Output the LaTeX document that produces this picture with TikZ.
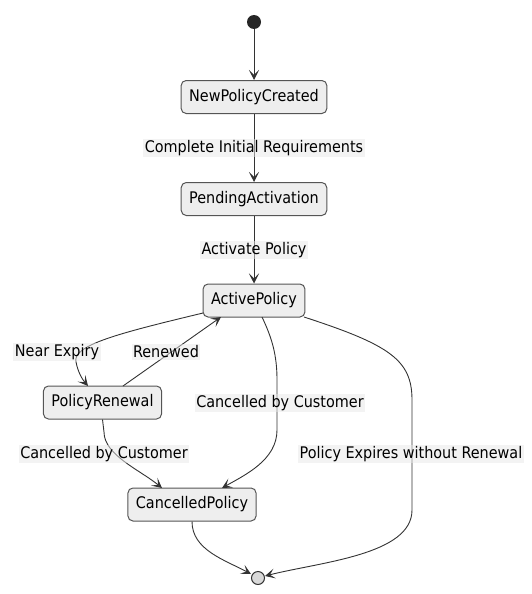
\documentclass[tikz,border=0pt]{standalone}
\usepackage{fontspec}
\setmainfont{DejaVu Sans Condensed}
\usetikzlibrary{arrows.meta}
\definecolor{boxfill}{HTML}{EEEEEE}
\definecolor{boxline}{HTML}{555555}
\definecolor{edgecol}{HTML}{333333}
\definecolor{lblfill}{HTML}{E8E8E8}
\begin{document}
\begin{tikzpicture}[x=1pt,y=-1pt,
  state/.style={draw=boxline,fill=boxfill,rounded corners=5pt,line width=1pt,
    minimum height=33pt,inner xsep=8pt,font=\fontsize{16}{19}\selectfont},
  lbl/.style={fill=lblfill,fill opacity=0.5,text opacity=1,inner sep=1.5pt,
    font=\fontsize{16}{19}\selectfont},
  edge/.style={draw=edgecol,line width=0.9pt,-{Stealth[length=10pt,width=10pt,inset=5pt]}}]
\useasboundingbox (0,0) rectangle (531,594);
\node[circle,fill=black!85,minimum size=14pt,inner sep=0pt] (start) at (254,22) {};
\node[state,minimum width=144pt] (new) at (254,97) {NewPolicyCreated};
\node[state,minimum width=144pt] (pend) at (254,199) {PendingActivation};
\node[state,minimum width=101pt] (active) at (254,300.5) {ActivePolicy};
\node[state,minimum width=115pt] (renew) at (102.5,402.5) {PolicyRenewal};
\node[state,minimum width=128pt] (canc) at (192,504.5) {CancelledPolicy};
\node[circle,draw=black!80,fill=black!15,line width=1pt,minimum size=13pt,inner sep=0pt] (end) at (258,578) {};
% coordinates
\coordinate (aNE) at (203,313);
\coordinate (rA) at (123,386);
\coordinate (aR) at (221,317);
\coordinate (aC) at (262,317);
\coordinate (aE) at (304,317);
\coordinate (rTop) at (88,386);
\coordinate (cL) at (162,488);
\coordinate (cR) at (222,488);
\coordinate (eL) at (251,574);
\coordinate (eR) at (265,576);
% edges
\draw[edge] (start) -- (new);
\draw[edge] (new) -- (pend);
\draw[edge] (pend) -- (active);
\draw[edge] (aNE) .. controls (120,333) and (72,345) .. (76,362) .. controls (78,372) and (82,379) .. (rTop);
\draw[edge] (rA) -- (aR);
\draw[edge] (aC) .. controls (272,338) and (277,355) .. (277,380) -- (277,430) .. controls (277,460) and (245,475) .. (cR);
\draw[edge] (renew.south) -- (104,432) .. controls (104,455) and (140,470) .. (cL);
\draw[edge] (aE) .. controls (390,345) and (412,360) .. (412,400) -- (412,510) .. controls (412,555) and (320,562) .. (eR);
\draw[edge] (canc.south) .. controls (192,550) and (225,560) .. (eL);
% labels
\node[lbl] (l1) at (254,148) {Complete Initial Requirements};
\node[lbl] (l2) at (254,250) {Activate Policy};
\node[lbl] (l3) at (57,352) {Near Expiry};
\node[lbl] (l4) at (166,352) {Renewed};
\node[lbl] (l5) at (280,403) {Cancelled by Customer};
\node[lbl] (l6) at (104,454) {Cancelled by Customer};
\node[lbl] (l7) at (411,454) {Policy Expires without Renewal};
\end{tikzpicture}
\end{document}
